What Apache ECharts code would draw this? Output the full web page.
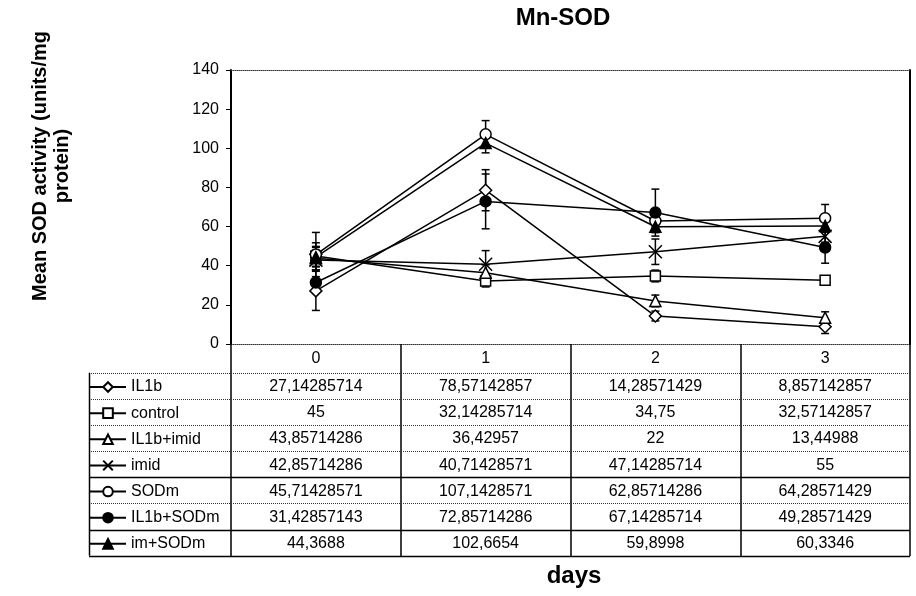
<!DOCTYPE html>
<html>
<head>
<meta charset="utf-8">
<script src="https://cdn.jsdelivr.net/npm/echarts@6/dist/echarts.min.js"></script>
<style>
  html, body { margin: 0; padding: 0; background: #fff; }
  #main { width: 916px; height: 596px; }
</style>
</head>
<body>
<div id="main"></div>
<script>
var FONT = '"Liberation Sans", Arial, sans-serif';

// days on the x axis
var days = ['0', '1', '2', '3'];

// mean SOD activity per group
var il1b      = [27.14285714, 78.57142857, 14.28571429, 8.857142857];
var control   = [45, 32.14285714, 34.75, 32.57142857];
var il1bImid  = [43.85714286, 36.42957, 22, 13.44988];
var imid      = [42.85714286, 40.71428571, 47.14285714, 55];
var sodm      = [45.71428571, 107.1428571, 62.85714286, 64.28571429];
var il1bSodm  = [31.42857143, 72.85714286, 67.14285714, 49.28571429];
var imSodm    = [44.3688, 102.6654, 59.8998, 60.3346];

// error bar half-widths
var errIl1b     = [10, 10.5, 2.5, 3.5];
var errControl  = [12, 3, 3, 2];
var errIl1bImid = [6, 4, 3, 3];
var errImid     = [5, 7, 6.5, 3];
var errSodm     = [6, 7, 3, 7];
var errIl1bSodm = [3, 14, 12, 8];
var errImSodm   = [5, 5, 3, 3];

var yTicks = [0, 20, 40, 60, 80, 100, 120, 140];

var X_PATH = 'path://M0,0L10,10M10,0L0,10';

var groups = [
  { name: 'IL1b',      values: il1b,     err: errIl1b,     symbol: 'diamond',  size: 12, filled: false },
  { name: 'control',   values: control,  err: errControl,  symbol: 'rect',     size: 10, filled: false },
  { name: 'IL1b+imid', values: il1bImid, err: errIl1bImid, symbol: 'triangle', size: 11, filled: false },
  { name: 'imid',      values: imid,     err: errImid,     symbol: X_PATH,     size: 13, filled: false },
  { name: 'SODm',      values: sodm,     err: errSodm,     symbol: 'circle',   size: 11, filled: false },
  { name: 'IL1b+SODm', values: il1bSodm, err: errIl1bSodm, symbol: 'circle',   size: 11, filled: true },
  { name: 'im+SODm',   values: imSodm,   err: errImSodm,   symbol: 'triangle', size: 11, filled: true }
];

function renderErr(params, api) {
  var x = api.value(0);
  var lo = api.coord([x, api.value(1)]);
  var hi = api.coord([x, api.value(2)]);
  var w = 4;
  var st = { stroke: '#000', lineWidth: 1.5 };
  return {
    type: 'group',
    children: [
      { type: 'line', shape: { x1: hi[0], y1: hi[1], x2: lo[0], y2: lo[1] }, style: st },
      { type: 'line', shape: { x1: hi[0] - w, y1: hi[1], x2: hi[0] + w, y2: hi[1] }, style: st },
      { type: 'line', shape: { x1: lo[0] - w, y1: lo[1], x2: lo[0] + w, y2: lo[1] }, style: st }
    ]
  };
}

var series = [];
groups.forEach(function (g) {
  series.push({
    type: 'custom',
    renderItem: renderErr,
    encode: { x: 0, y: [1, 2] },
    data: g.values.map(function (v, i) { return [i, v - g.err[i], v + g.err[i]]; }),
    z: 2,
    silent: true
  });
});
groups.forEach(function (g) {
  series.push({
    name: g.name,
    type: 'line',
    data: g.values,
    symbol: g.symbol,
    symbolSize: g.size,
    showAllSymbol: true,
    lineStyle: { color: '#000', width: 1.5 },
    itemStyle: { color: g.filled ? '#000' : '#fff', borderColor: '#000', borderWidth: 1.5 },
    z: 3
  });
});

var chart = echarts.init(document.getElementById('main'), null, { renderer: 'canvas' });

var option = {
  animation: false,
  backgroundColor: '#fff',
  textStyle: { fontFamily: FONT, color: '#000' },
  grid: { left: 231, right: 6, top: 70, bottom: 252 },
  legend: {
    data: groups.map(function (g) { return g.name; }),
    orient: 'vertical',
    left: 89,
    top: 379,
    padding: 0,
    itemWidth: 36,
    itemHeight: 12,
    itemGap: 10.14,
    selectedMode: false,
    textStyle: { fontFamily: FONT, fontSize: 16, color: '#000', lineHeight: 16 }
  },
  xAxis: [{
    type: 'category',
    data: days,
    boundaryGap: true,
    axisLine: { onZero: false, lineStyle: { color: '#333', width: 1, type: 'dotted' } },
    axisTick: { show: true, interval: 0, length: 212, lineStyle: { color: '#000', width: 1.5 } },
    axisLabel: { fontFamily: FONT, fontSize: 16, color: '#000', margin: 7 },
    splitLine: { show: false }
  }, {
    type: 'category',
    data: days,
    position: 'top',
    axisLine: { onZero: false, lineStyle: { color: '#333', width: 1, type: 'dotted' } },
    axisTick: { show: false },
    axisLabel: { show: false }
  }],
  yAxis: [{
    type: 'value',
    min: yTicks[0],
    max: yTicks[yTicks.length - 1],
    interval: 20,
    axisLine: { show: true, onZero: false, lineStyle: { color: '#000', width: 2 } },
    axisTick: { show: true, length: 5, lineStyle: { color: '#000' } },
    axisLabel: { fontFamily: FONT, fontSize: 16, color: '#000', margin: 12 },
    splitLine: { show: false }
  }, {
    type: 'value',
    position: 'right',
    min: yTicks[0],
    max: yTicks[yTicks.length - 1],
    interval: 20,
    axisLine: { show: true, onZero: false, lineStyle: { color: '#000', width: 2 } },
    axisTick: { show: false },
    axisLabel: { show: false },
    splitLine: { show: false }
  }],
  series: series
};

chart.setOption(option);

// data table under the plot, laid out from the axes
var yZero = chart.convertToPixel({ yAxisIndex: 0 }, 0);
var xRight = 910;
var legendLeft = 89;
var headerH = 28.7;
var rowH = 26.14;
var headBottom = yZero + headerH;
var rowDotted = [true, true, true, true, false, true, false, false];

var graphics = [];
for (var r = 0; r <= groups.length; r++) {
  var yy = Math.round(headBottom + r * rowH) + 0.5;
  graphics.push({
    type: 'line',
    shape: { x1: legendLeft, y1: yy, x2: xRight, y2: yy },
    style: { stroke: rowDotted[r] ? '#333' : '#000', lineWidth: rowDotted[r] ? 1 : 1.5, lineDash: rowDotted[r] ? [1, 1] : null },
    z: 5
  });
}
graphics.push({
  type: 'line',
  shape: { x1: legendLeft + 0.5, y1: headBottom, x2: legendLeft + 0.5, y2: headBottom + groups.length * rowH },
  style: { stroke: '#000', lineWidth: 1.5 },
  z: 5
});

groups.forEach(function (g, r) {
  var cy = headBottom + (r + 0.5) * rowH;
  g.values.forEach(function (v, i) {
    var cx = chart.convertToPixel({ xAxisIndex: 0 }, i);
    graphics.push({
      type: 'text',
      x: cx,
      y: cy + 1,
      style: {
        text: String(v).replace('.', ','),
        font: '16px ' + FONT,
        fill: '#000',
        align: 'center',
        verticalAlign: 'middle'
      },
      z: 5
    });
  });
});

graphics.push({
  type: 'text', x: 563, y: 18,
  style: { text: 'Mn-SOD', font: 'bold 24px ' + FONT, fill: '#000', align: 'center', verticalAlign: 'middle' }
});
graphics.push({
  type: 'text', x: 574, y: 576,
  style: { text: 'days', font: 'bold 24px ' + FONT, fill: '#000', align: 'center', verticalAlign: 'middle' }
});
graphics.push({
  type: 'text', x: 51, y: 166, rotation: Math.PI / 2,
  style: {
    text: 'Mean SOD activity (units/mg\nprotein)',
    font: 'bold 20px ' + FONT,
    lineHeight: 22,
    fill: '#000',
    align: 'center',
    verticalAlign: 'middle'
  }
});

chart.setOption({ graphic: graphics });
window.addEventListener('resize', chart.resize);
</script>
</body>
</html>
